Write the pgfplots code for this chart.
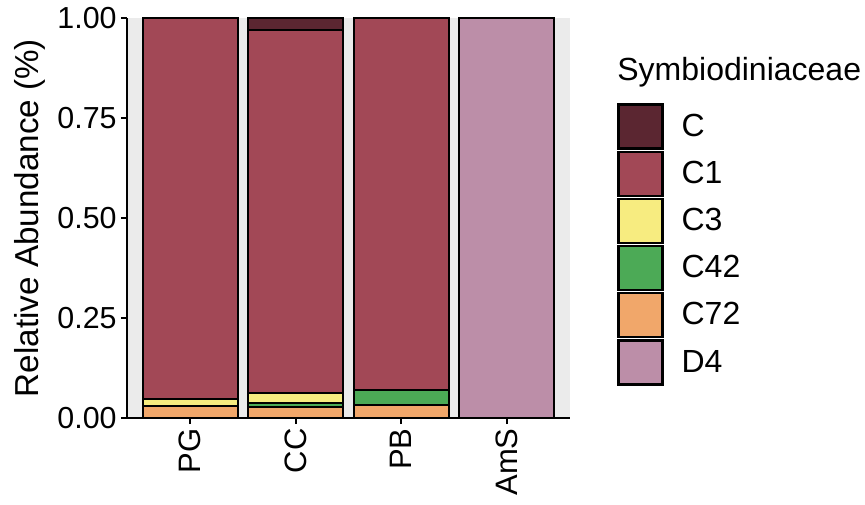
\documentclass[border=0pt]{standalone}
\usepackage{pgfplots}
\pgfplotsset{compat=1.18}
\usepackage{fontspec}
\setmainfont{Liberation Sans}
\definecolor{cC}{HTML}{5B2631}
\definecolor{cCone}{HTML}{A24856}
\definecolor{cCthree}{HTML}{F7EC80}
\definecolor{cCfft}{HTML}{4CAA56}
\definecolor{cCst}{HTML}{F1A76A}
\definecolor{cDfour}{HTML}{BC8EA8}
\definecolor{panel}{HTML}{EBEBEB}
\begin{document}
\begin{tikzpicture}
\begin{axis}[
  name=ax,
  width=221.5pt, height=200pt, scale only axis,
  ybar stacked, bar width=47.5pt,
  xmin=0.4, xmax=4.6, ymin=0, ymax=1,
  clip=false,
  axis background/.style={fill=panel},
  axis x line*=bottom, axis y line*=left,
  axis line style={line width=1pt, -},
  every tick/.style={line width=1pt, black},
  tick align=outside, major tick length=3pt,
  xtick={1,2,3,4}, xticklabels={PG,CC,PB,AmS},
  xticklabel style={rotate=90, anchor=east, font=\fontsize{15.5}{18}\selectfont, inner sep=2pt},
  ytick={0,0.25,0.5,0.75,1},
  yticklabel style={font=\fontsize{15.2}{18}\selectfont, inner sep=2pt},
  /pgf/number format/.cd, fixed, fixed zerofill, precision=2, assume math mode=true,
  /pgfplots/.cd,
  ylabel={Relative Abundance (\%)},
  ylabel style={at={(axis description cs:-0.219,0.5)}, anchor=center, rotate=0, font=\fontsize{16.6}{19}\selectfont},
  every axis plot/.append style={draw=black, line width=1.1pt},
  reverse legend,
  legend style={at={(axis description cs:1,1)}, anchor=north west, xshift=23.5pt, yshift=-42.5pt,
    draw=none, fill=none, inner sep=0pt, row sep=0.5pt,
    nodes={inner sep=0pt, font=\fontsize{16}{19}\selectfont, anchor=west}},
  legend cell align=left,
  legend image code/.code={\draw[#1, draw=black, line width=1.1pt] (0pt,-11pt) rectangle (22pt,11pt); \path (31pt,0pt);},
]
\addplot[fill=cDfour] coordinates {(1,0) (2,0) (3,0) (4,1)};
\addplot[fill=cCst] coordinates {(1,0.030) (2,0.027) (3,0.033) (4,0)};
\addplot[fill=cCfft] coordinates {(1,0) (2,0.010) (3,0.037) (4,0)};
\addplot[fill=cCthree] coordinates {(1,0.017) (2,0.025) (3,0) (4,0)};
\addplot[fill=cCone] coordinates {(1,0.953) (2,0.908) (3,0.930) (4,0)};
\addplot[fill=cC] coordinates {(1,0) (2,0.030) (3,0) (4,0)};
\legend{D4,C72,C42,C3,C1,C}
\node[anchor=west, inner sep=0pt, font=\fontsize{16}{19}\selectfont] at ([xshift=23.5pt,yshift=-27pt]rel axis cs:1,1) {Symbiodiniaceae};
\end{axis}
\pgfresetboundingbox
\path[use as bounding box] ([xshift=-63.5pt,yshift=-43pt]ax.south west) rectangle ([xshift=369pt,yshift=209pt]ax.south west);
\end{tikzpicture}
\end{document}
